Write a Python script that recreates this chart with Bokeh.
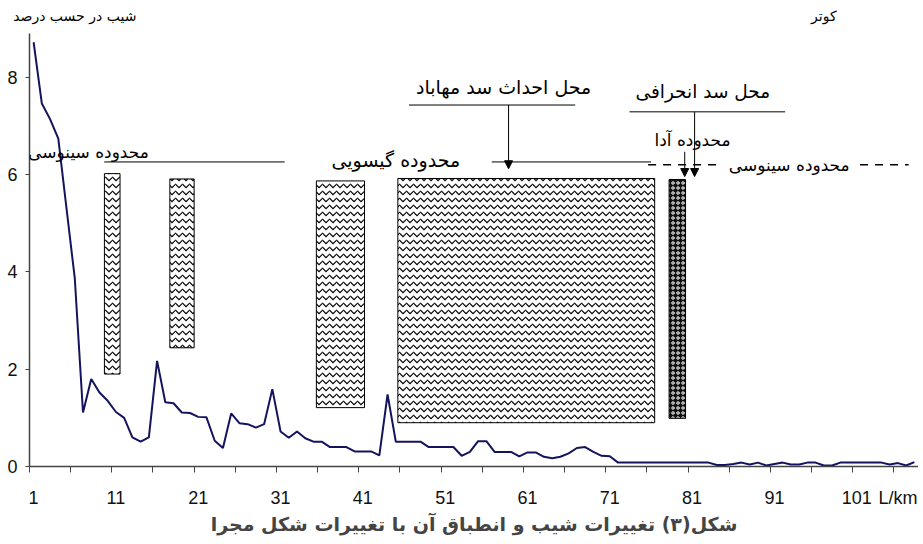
from bokeh.plotting import figure
from bokeh.models import FixedTicker, Label, Arrow, NormalHead, Range1d, Title, LinearAxis
from bokeh.embed import file_html
from bokeh.resources import INLINE

# ---- data ----
km = list(range(1, 109))
slope = [8.72, 7.46, 7.14, 6.74, 5.3, 3.87, 1.11, 1.80, 1.52, 1.35,
         1.12, 1.0, 0.6, 0.51, 0.6, 2.17, 1.32, 1.3, 1.11, 1.1,
         1.02, 1.01, 0.53, 0.38, 1.09, 0.89, 0.87, 0.8, 0.87, 1.59,
         0.72, 0.59, 0.72, 0.58, 0.51, 0.51, 0.4, 0.4, 0.4, 0.31,
         0.31, 0.31, 0.23, 1.48, 0.51, 0.51, 0.51, 0.51, 0.4, 0.4,
         0.4, 0.4, 0.22, 0.3, 0.52, 0.52, 0.3, 0.3, 0.3, 0.21,
         0.29, 0.29, 0.2, 0.17, 0.2, 0.27, 0.38, 0.4, 0.3, 0.22,
         0.21, 0.08, 0.08, 0.08, 0.08, 0.08, 0.08, 0.08, 0.08, 0.08,
         0.08, 0.08, 0.08, 0.03, 0.03, 0.05, 0.08, 0.04, 0.08, 0.02,
         0.05, 0.08, 0.04, 0.04, 0.08, 0.08, 0.02, 0.02, 0.08, 0.08,
         0.08, 0.08, 0.08, 0.08, 0.04, 0.07, 0.02, 0.09]

# wavy-hatched zones (km start/end, slope bottom/top)
wave_left = [9.6, 17.55, 35.35, 45.25]
wave_right = [11.5, 20.5, 41.2, 76.45]
wave_bottom = [1.9, 2.44, 1.21, 0.9]
wave_top = [6.02, 5.91, 5.87, 5.92]

# dark zone (Ada)
dark_left = [78.2]
dark_right = [80.2]
dark_bottom = [0.99]
dark_top = [5.9]

x_tick_labels = [1, 11, 21, 31, 41, 51, 61, 71, 81, 91, 101]
x_tick_marks = [0.5 + 5 * k for k in range(22)]
y_ticks = [0, 2, 4, 6, 8]
x_unit_label = "L/km"
y_title = "شیب در حسب درصد"
corner_note = "کوتر"
caption = "شکل(۳) تغییرات شیب و انطباق آن با تغییرات شکل مجرا"

FA = "DejaVu Sans"

p = figure(width=918, height=544, x_range=Range1d(0.5, 108.5), y_range=Range1d(0, 8.9),
           output_backend="svg", toolbar_location=None,
           min_border_left=29, min_border_right=0, min_border_top=33, min_border_bottom=78)
p.xgrid.visible = False
p.ygrid.visible = False
p.outline_line_color = None
p.background_fill_color = "white"

# zones
p.quad(left=wave_left, right=wave_right, bottom=wave_bottom, top=wave_top,
       fill_color="white", line_color="black", line_width=1,
       hatch_pattern="horizontal_wave", hatch_color="black", hatch_scale=7, hatch_weight=1.2)
p.quad(left=dark_left, right=dark_right, bottom=dark_bottom, top=dark_top,
       fill_color="#111111", line_color="black", line_width=1,
       hatch_pattern="ring", hatch_color="white", hatch_scale=5, hatch_weight=1)

# slope line
p.line(km, slope, line_color="#14145e", line_width=2)

# axes
p.xaxis.ticker = FixedTicker(ticks=x_tick_labels + [106], minor_ticks=x_tick_marks)
p.xaxis.major_label_overrides = {106: x_unit_label}
p.xaxis.major_tick_out = 0
p.xaxis.major_tick_in = 0
p.xaxis.minor_tick_out = 6
p.xaxis.minor_tick_in = 0
p.xaxis.major_label_standoff = 15
p.yaxis.ticker = FixedTicker(ticks=y_ticks, minor_ticks=[])
p.yaxis.major_tick_out = 4
p.yaxis.major_tick_in = 0
p.yaxis.minor_tick_out = 0
p.yaxis.major_label_standoff = 8
for ax in (p.xaxis, p.yaxis):
    ax.axis_line_color = "#444444"
    ax.axis_line_width = 1.5
    ax.major_tick_line_color = "#444444"
    ax.minor_tick_line_color = "#444444"
    ax.major_label_text_font = "Liberation Sans"
    ax.major_label_text_font_size = "18px"
    ax.major_label_text_color = "#111111"

# top texts (y title at left, note at right) on a bare axis above the frame
top = LinearAxis(ticker=FixedTicker(ticks=[6, 97], minor_ticks=[]),
                 major_label_overrides={6: y_title, 97: corner_note},
                 axis_line_color=None, major_tick_line_color=None, minor_tick_line_color=None,
                 major_tick_out=0, major_label_standoff=10,
                 major_label_text_font=FA, major_label_text_font_size="14px",
                 major_label_text_color="black")
p.add_layout(top, "above")

# chart caption below
cap = Title(text=caption, align="center",
            text_font=FA, text_font_size="19px", text_font_style="bold", standoff=0)
p.add_layout(cap, "below")

# annotation lines
p.segment(x0=[9.57, 56.65, 46.6, 73.4], y0=[6.26, 6.26, 7.43, 7.29],
          x1=[31.5, 76.0, 66.8, 92.3], y1=[6.26, 6.26, 7.43, 7.29],
          line_color="black", line_width=1)
p.segment(x0=[75.65, 101.4], y0=[6.2, 6.2], x1=[84.6, 107.3], y1=[6.2, 6.2],
          line_color="black", line_width=1.5, line_dash="8 7")

for xs, ys, xe, ye in [(58.7, 7.43, 58.7, 6.12), (81.3, 7.29, 81.3, 5.96), (80.1, 6.47, 80.1, 5.96)]:
    p.add_layout(Arrow(end=NormalHead(size=8, fill_color="black", line_color="black"),
                       x_start=xs, y_start=ys, x_end=xe, y_end=ye, line_width=1, line_color="black"))


def lab(x, y, t, size="15px", align="center"):
    p.add_layout(Label(x=x, y=y, text=t, text_align=align, text_baseline="middle",
                       text_font=FA, text_font_size=size, text_color="black"))


lab(15.0, 6.47, "محدوده سینوسی", size="17px", align="right")
lab(45.0, 6.3, "محدوده گیسویی", size="19px")
lab(58.1, 7.8, "محل احداث سد مهاباد", size="19px")
lab(82.3, 7.7, "محل سد انحرافی", size="18.5px")
lab(81.05, 6.71, "محدوده آدا", size="17px")
lab(92.8, 6.2, "محدوده سینوسی", size="17px")

open("out.html", "w").write(file_html(p, INLINE))
